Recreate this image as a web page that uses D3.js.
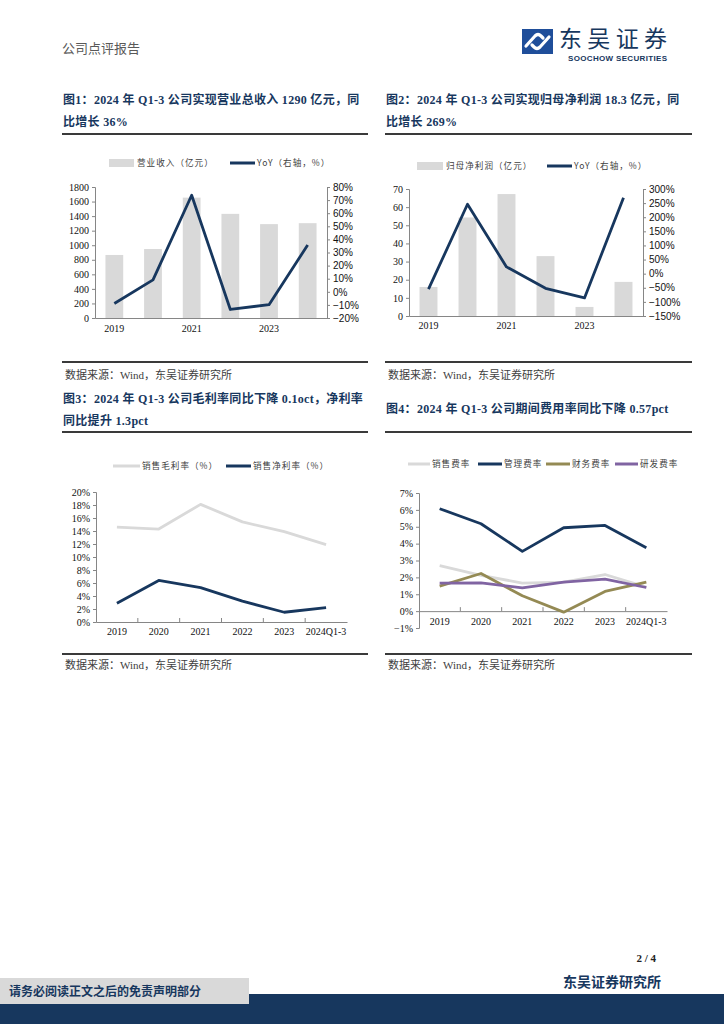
<!DOCTYPE html>
<html>
<head>
<meta charset="utf-8">
<script src="https://cdn.jsdelivr.net/npm/d3@7"></script>
<style>
  body { margin: 0; background: #fff; }
  svg { display: block; }
  .serif { font-family: "Liberation Serif", "Noto Sans CJK SC", serif; }
  .sans { font-family: "Liberation Sans", "Noto Sans CJK SC", sans-serif; }
</style>
</head>
<body>
<div id="page"></div>
<script>
// categories
const years = ['2019', '2020', '2021', '2022', '2023', '2024Q1-3'];

// fig 1
const revenue = [866, 948, 1654, 1431, 1290, 1303];
const revenueYoY = [-0.089, 0.091, 0.737, -0.135, -0.098, 0.357];
const revenueTicks = [0, 200, 400, 600, 800, 1000, 1200, 1400, 1600, 1800];
const revenueYoYTicks = [-0.2, -0.1, 0, 0.1, 0.2, 0.3, 0.4, 0.5, 0.6, 0.7, 0.8];

// fig 2
const netProfit = [16.0, 54.3, 67.2, 33.0, 5.0, 18.8];
const netProfitYoY = [-0.55, 2.46, 0.24, -0.52, -0.86, 2.69];
const netProfitTicks = [0, 10, 20, 30, 40, 50, 60, 70];
const netProfitYoYTicks = [-1.5, -1, -0.5, 0, 0.5, 1, 1.5, 2, 2.5, 3];

// fig 3
const grossMargin = [0.146, 0.143, 0.181, 0.154, 0.139, 0.119];
const netMargin = [0.029, 0.064, 0.053, 0.032, 0.015, 0.022];
const marginTicks = [0, 0.02, 0.04, 0.06, 0.08, 0.10, 0.12, 0.14, 0.16, 0.18, 0.20];

// fig 4
const salesRate = [0.0269, 0.0212, 0.0166, 0.0172, 0.0217, 0.0142];
const mgmtRate = [0.0607, 0.0518, 0.0354, 0.0494, 0.0508, 0.0375];
const finRate = [0.0148, 0.0223, 0.0091, -0.0006, 0.0117, 0.0172];
const rdRate = [0.0166, 0.0168, 0.0138, 0.0172, 0.0190, 0.0140];
const expenseTicks = [-0.01, 0, 0.01, 0.02, 0.03, 0.04, 0.05, 0.06, 0.07];

const NAVY = '#17375e';
const GRAY_BAR = '#d9d9d9';
const AXIS = '#868686';

const svg = d3.select('#page').append('svg')
    .attr('width', 724)
    .attr('height', 1024);

// ---------- page furniture ----------
svg.append('text')
    .attr('x', 62).attr('y', 53)
    .attr('font-family', '"Noto Sans CJK SC", sans-serif')
    .attr('font-size', 13).attr('fill', '#595959')
    .text('公司点评报告');

// logo
const logo = svg.append('g').attr('transform', 'translate(522,29)');
logo.append('rect').attr('width', 31).attr('height', 25).attr('fill', '#1f4e9a');
logo.append('path')
    .attr('d', 'M4,17 L13,7 Q16,4 19,7 L21,9 M27,8 L18,18 Q15,21 12,18 L10,16')
    .attr('fill', 'none').attr('stroke', '#fff').attr('stroke-width', 3.2).attr('stroke-linecap', 'round');
svg.append('text')
    .attr('x', 559).attr('y', 47)
    .attr('font-family', '"Noto Sans CJK SC", sans-serif')
    .attr('font-size', 23).attr('fill', NAVY)
    .attr('textLength', 108)
    .text('东吴证券');
svg.append('text')
    .attr('x', 568).attr('y', 61)
    .attr('font-family', '"Liberation Sans", sans-serif').attr('font-weight', 'bold')
    .attr('font-size', 8).attr('fill', NAVY)
    .attr('textLength', 99)
    .text('SOOCHOW SECURITIES');

function title (x, y, lines) {
    lines.forEach((t, i) => {
        svg.append('text')
            .attr('class', 'serif')
            .attr('x', x).attr('y', y + i * 22)
            .attr('font-size', 12).attr('font-weight', 'bold').attr('fill', NAVY)
            .attr('letter-spacing', 0.3)
            .text(t);
    });
}

function rule (x1, x2, y) {
    svg.append('line')
        .attr('x1', x1).attr('x2', x2).attr('y1', y).attr('y2', y)
        .attr('stroke', '#3a3a3a').attr('stroke-width', 1.8);
}

function source (x, y) {
    svg.append('text')
        .attr('class', 'serif')
        .attr('x', x).attr('y', y)
        .attr('font-size', 11).attr('fill', '#404040')
        .text('数据来源：Wind，东吴证券研究所');
}

title(63, 104, ['图1：2024 年 Q1-3 公司实现营业总收入 1290 亿元，同', '比增长 36%']);
title(386, 104, ['图2：2024 年 Q1-3 公司实现归母净利润 18.3 亿元，同', '比增长 269%']);
title(63, 403, ['图3：2024 年 Q1-3 公司毛利率同比下降 0.1oct，净利率', '同比提升 1.3pct']);
title(386, 413, ['图4：2024 年 Q1-3 公司期间费用率同比下降 0.57pct']);

rule(62, 368, 134); rule(385, 692, 134);
rule(62, 368, 362); rule(385, 692, 362);
rule(62, 368, 432); rule(385, 692, 432);
rule(62, 368, 654); rule(385, 692, 654);

source(65, 379); source(388, 379);
source(65, 669); source(388, 669);

// footer
svg.append('text')
    .attr('class', 'serif')
    .attr('x', 656).attr('y', 962).attr('text-anchor', 'end')
    .attr('font-size', 11).attr('font-weight', 'bold').attr('fill', '#222')
    .text('2 / 4');
svg.append('text')
    .attr('class', 'serif')
    .attr('x', 661).attr('y', 987).attr('text-anchor', 'end')
    .attr('font-size', 14).attr('font-weight', 'bold').attr('fill', NAVY)
    .text('东吴证券研究所');
svg.append('rect').attr('x', 0).attr('y', 994).attr('width', 724).attr('height', 30).attr('fill', NAVY);
svg.append('rect').attr('x', 0).attr('y', 978).attr('width', 249).attr('height', 26).attr('fill', '#d9d9d9');
svg.append('text')
    .attr('class', 'serif')
    .attr('x', 9).attr('y', 996)
    .attr('font-size', 12).attr('font-weight', 'bold').attr('fill', NAVY)
    .text('请务必阅读正文之后的免责声明部分');

// ---------- helpers ----------
function styleAxis (g, cls) {
    g.select('.domain').attr('stroke', AXIS);
    g.selectAll('.tick line').attr('stroke', AXIS);
    g.selectAll('.tick text')
        .attr('class', cls)
        .attr('font-size', 10)
        .attr('fill', '#111');
}

function legendText (x, y, t) {
    svg.append('text')
        .attr('x', x).attr('y', y + 3.2)
        .attr('font-family', '"Noto Sans CJK SC", sans-serif')
        .attr('font-size', 8.6).attr('fill', '#404040')
        .attr('letter-spacing', 1)
        .text(t);
}

function legendBox (x, y, w, color, label) {
    svg.append('rect').attr('x', x).attr('y', y - 4).attr('width', w).attr('height', 8).attr('fill', color);
    legendText(x + w + 3, y, label);
}

function legendLine (x, y, w, color, label) {
    svg.append('line').attr('x1', x).attr('x2', x + w).attr('y1', y).attr('y2', y)
        .attr('stroke', color).attr('stroke-width', 3);
    legendText(x + w + 2, y, label);
}

function barLineChart (cfg) {
    const x = d3.scaleBand().domain(years).range([cfg.left, cfg.right])
        .paddingInner(0.54).paddingOuter(0.27);
    const yL = d3.scaleLinear().domain(cfg.leftDomain).range([cfg.bottom, cfg.top]);
    const yR = d3.scaleLinear().domain(cfg.rightDomain).range([cfg.bottom, cfg.top]);
    const g = svg.append('g');

    g.selectAll('rect.bar')
        .data(cfg.bars)
        .join('rect')
        .attr('class', 'bar')
        .attr('x', (d, i) => x(years[i]))
        .attr('width', x.bandwidth())
        .attr('y', d => yL(d))
        .attr('height', d => yL(0) - yL(d))
        .attr('fill', GRAY_BAR);

    const line = d3.line()
        .x((d, i) => x(years[i]) + x.bandwidth() / 2)
        .y(d => yR(d));
    g.append('path')
        .datum(cfg.yoy)
        .attr('d', line)
        .attr('fill', 'none')
        .attr('stroke', NAVY)
        .attr('stroke-width', 2.8)
        .attr('stroke-linejoin', 'round');

    g.append('g')
        .attr('transform', `translate(${cfg.left},0)`)
        .call(d3.axisLeft(yL).tickValues(cfg.leftTicks).tickSize(3).tickPadding(3).tickFormat(d3.format('d')))
        .call(a => styleAxis(a, 'serif'));

    g.append('g')
        .attr('transform', `translate(${cfg.right},0)`)
        .call(d3.axisRight(yR).tickValues(cfg.rightTicks).tickSize(3).tickPadding(3).tickFormat(d3.format('.0%')))
        .call(a => styleAxis(a, 'sans'));

    g.append('g')
        .attr('transform', `translate(0,${cfg.bottom})`)
        .call(d3.axisBottom(x).tickValues(['2019', '2021', '2023']).tickSize(0).tickPadding(cfg.xPad).tickSizeOuter(0))
        .call(a => styleAxis(a, 'serif'));
}

function lineChart (cfg) {
    const x = d3.scaleBand().domain(years).range([cfg.left, cfg.right]);
    const y = d3.scaleLinear().domain(cfg.domain).range([cfg.bottom, cfg.top]);
    const g = svg.append('g');

    g.append('g')
        .attr('transform', `translate(${cfg.left},0)`)
        .call(d3.axisLeft(y).tickValues(cfg.ticks).tickSize(3).tickPadding(3).tickFormat(d3.format('.0%')))
        .call(a => styleAxis(a, 'serif'));

    const base = y(0);
    g.append('g')
        .attr('transform', `translate(0,${base})`)
        .call(d3.axisBottom(x).tickSize(0).tickPadding(cfg.xPad).tickSizeOuter(0))
        .call(a => styleAxis(a, 'serif'));

    // small upward ticks on category boundaries
    g.selectAll('line.bound')
        .data(years.slice(1))
        .join('line')
        .attr('class', 'bound')
        .attr('x1', d => x(d)).attr('x2', d => x(d))
        .attr('y1', base).attr('y2', base - 4)
        .attr('stroke', AXIS);

    const line = d3.line()
        .x((d, i) => x(years[i]) + x.bandwidth() / 2)
        .y(d => y(d));

    cfg.series.forEach(s => {
        g.append('path')
            .datum(s.values)
            .attr('d', line)
            .attr('fill', 'none')
            .attr('stroke', s.color)
            .attr('stroke-width', 2.8)
            .attr('stroke-linejoin', 'round');
    });
}

// ---------- fig 1 ----------
legendBox(109, 163, 25, GRAY_BAR, '营业收入（亿元）');
legendLine(230, 163, 25, NAVY, 'YoY（右轴，%）');
barLineChart({
    left: 95, right: 327, top: 187, bottom: 318, xPad: 7,
    leftDomain: [0, 1800], rightDomain: [-0.2, 0.8],
    leftTicks: revenueTicks, rightTicks: revenueYoYTicks,
    bars: revenue, yoy: revenueYoY
});

// ---------- fig 2 ----------
legendBox(417, 166, 26, GRAY_BAR, '归母净利润（亿元）');
legendLine(547, 166, 25, NAVY, 'YoY（右轴，%）');
barLineChart({
    left: 409, right: 643, top: 189, bottom: 316, xPad: 6,
    leftDomain: [0, 70], rightDomain: [-1.5, 3],
    leftTicks: netProfitTicks, rightTicks: netProfitYoYTicks,
    bars: netProfit, yoy: netProfitYoY
});

// ---------- fig 3 ----------
legendLine(113, 466, 27, GRAY_BAR, '销售毛利率（%）');
legendLine(226, 466, 25, NAVY, '销售净利率（%）');
lineChart({
    left: 96, right: 347, top: 492, bottom: 622, xPad: 6,
    domain: [0, 0.2], ticks: marginTicks,
    series: [
        { values: grossMargin, color: GRAY_BAR },
        { values: netMargin, color: NAVY }
    ]
});

// ---------- fig 4 ----------
legendLine(408, 464, 22, GRAY_BAR, '销售费率');
legendLine(478, 464, 24, NAVY, '管理费率');
legendLine(546, 464, 24, '#948a54', '财务费率');
legendLine(615, 464, 23, '#8064a2', '研发费率');
lineChart({
    left: 419, right: 667, top: 493, bottom: 628, xPad: 7,
    domain: [-0.01, 0.07], ticks: expenseTicks,
    series: [
        { values: salesRate, color: GRAY_BAR },
        { values: mgmtRate, color: NAVY },
        { values: finRate, color: '#948a54' },
        { values: rdRate, color: '#8064a2' }
    ]
});
</script>
</body>
</html>
